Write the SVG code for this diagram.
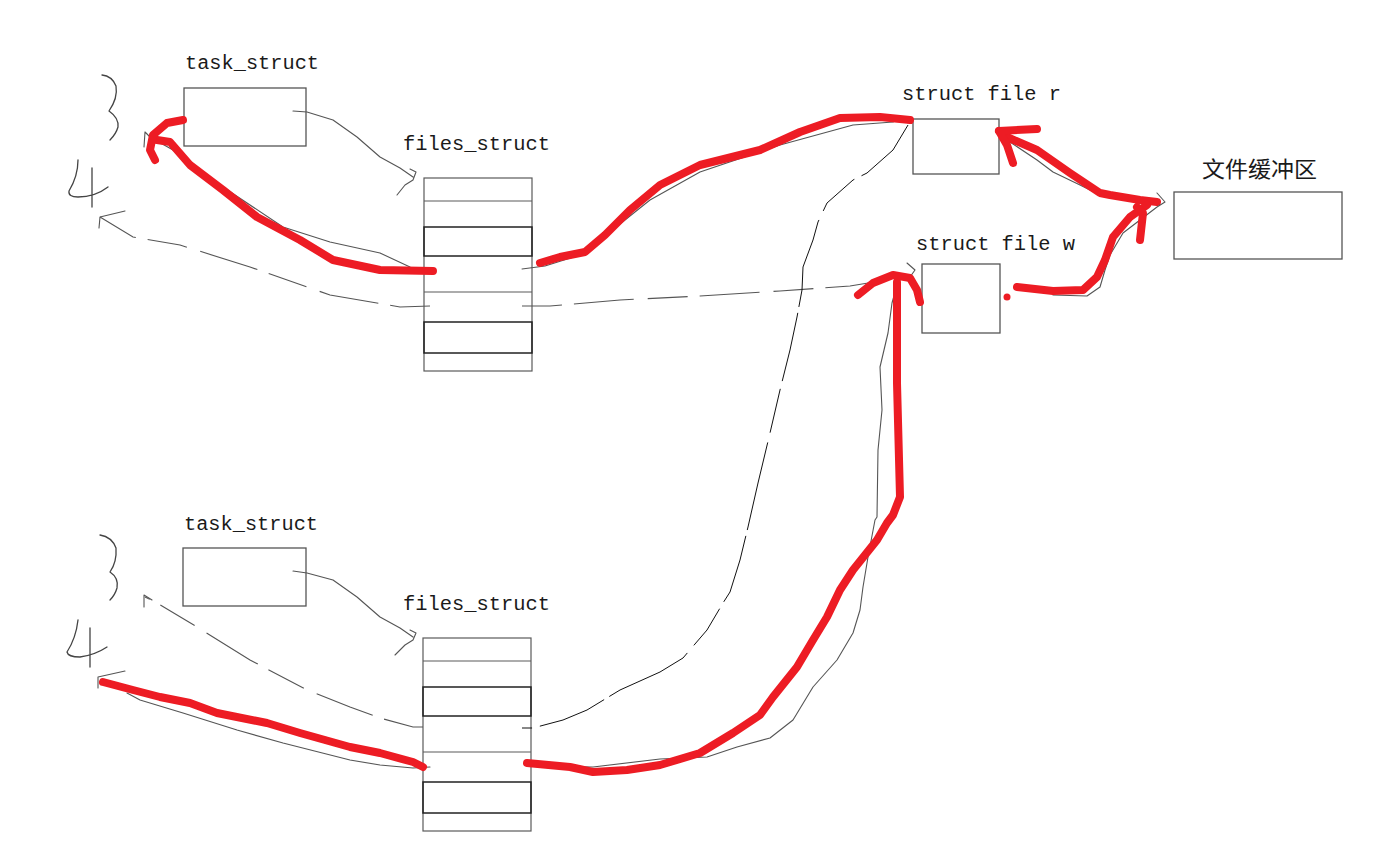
<svg xmlns="http://www.w3.org/2000/svg" width="1393" height="862" viewBox="0 0 1393 862">
<style>
.lbl{font-family:"Liberation Mono",monospace;font-size:20px;fill:#1a1a1a}
.cjk{font-family:"Noto Sans CJK SC",sans-serif;font-size:22px;fill:#1a1a1a}
.box{fill:#fff;stroke:#555;stroke-width:1.3}
.cell{fill:none;stroke:#5a5a5a;stroke-width:1.2}
.bold{fill:none;stroke:#222;stroke-width:1.5}
.thin{fill:none;stroke:#555;stroke-width:1.1;stroke-linejoin:round;stroke-linecap:round}
.dash{fill:none;stroke:#555;stroke-width:1.1;stroke-dasharray:40 12 60 14}
.long{fill:none;stroke:#111;stroke-width:1;stroke-dasharray:70 8 45 10 90 6}
.red{fill:none;stroke:#ed1c24;stroke-width:8;stroke-linecap:round;stroke-linejoin:round}
.hand{fill:none;stroke:#444;stroke-width:1.3;stroke-linejoin:round;stroke-linecap:round}
</style>
<rect width="1393" height="862" fill="#fff"/>

<g id="hand-top">
<path class="hand" d="M102,75 Q112,76 116,86 Q118,98 109,111 Q119,118 118,127 Q116,134 110,140"/>
<path class="hand" d="M78,160 Q78,176 69,191 Q68,197 78,197 Q95,197 108,187 M92,168 L92,207"/>
</g>
<g id="hand-bottom">
<path class="hand" d="M100,535 Q112,537 116,548 Q117,562 110,572 Q119,578 117,588 Q115,595 110,600"/>
<path class="hand" d="M78,620 Q76,638 67,652 Q68,657 80,657 Q95,655 107,647 M90,628 L90,667"/>
</g>

<g id="task1">
<text class="lbl" x="185" y="69" textLength="134" lengthAdjust="spacingAndGlyphs">task_struct</text>
<rect class="box" x="184" y="88" width="122" height="58"/>
</g>
<g id="files1">
<text class="lbl" x="403" y="150" textLength="147" lengthAdjust="spacingAndGlyphs">files_struct</text>
<rect class="cell" x="424" y="178" width="108" height="193"/>
<path class="cell" d="M424,201 H532 M424,292 H532"/>
<rect class="bold" x="424" y="227" width="108" height="29"/>
<rect class="bold" x="424" y="322" width="108" height="31"/>
</g>
<g id="task2">
<text class="lbl" x="184" y="530" textLength="134" lengthAdjust="spacingAndGlyphs">task_struct</text>
<rect class="box" x="183" y="548" width="123" height="58"/>
</g>
<g id="files2">
<text class="lbl" x="403" y="610" textLength="147" lengthAdjust="spacingAndGlyphs">files_struct</text>
<rect class="cell" x="423" y="638" width="108" height="193"/>
<path class="cell" d="M423,661 H531 M423,752 H531"/>
<rect class="bold" x="423" y="687" width="108" height="29"/>
<rect class="bold" x="423" y="782" width="108" height="31"/>
</g>
<g id="file-r">
<text class="lbl" x="902" y="100" textLength="159" lengthAdjust="spacingAndGlyphs">struct file r</text>
<rect class="box" x="913" y="119" width="86" height="55"/>
</g>
<g id="file-w">
<text class="lbl" x="916" y="250" textLength="159" lengthAdjust="spacingAndGlyphs">struct file w</text>
<rect class="box" x="922" y="264" width="78" height="69"/>
</g>
<g id="buffer">
<text class="cjk" x="1202" y="177" textLength="115" lengthAdjust="spacingAndGlyphs">文件缓冲区</text>
<rect class="box" x="1174" y="192" width="168" height="67"/>
</g>

<g id="connectors">
<path class="thin" d="M293,111 L307,112 L333,120 L357,137 L380,157 L400,168 L413,177 M410,169 L416,172 L413,180 L405,185 L397,195"/>
<path class="thin" d="M293,571 L307,573 L333,580 L357,597 L380,617 L400,628 L413,637 M410,630 L416,633 L413,640 L405,645 L395,655"/>

<path class="thin" d="M410,267 L380,253 L330,242 L283,227 L217,183 L173,150 L150,137 M150,137 L145,132 L144,147"/>
<path class="red" d="M433,271 L380,270 L333,260 L300,240 L257,217 L223,190 L190,165 L170,142 L157,140"/>
<path class="red" d="M183,120 L167,123 L153,135 L150,150 L155,160"/>

<path class="dash" d="M430,306 L400,307 L330,295 L250,267 L180,245 L133,237 L100,217"/>
<path class="thin" d="M125,211 L100,217 L99,228"/>

<path class="thin" d="M522,269 L545,266 L580,255 L610,232 L650,200 L700,172 L780,145 L853,125 L893,122 L903,117 L908,123"/>
<path class="red" d="M540,263 L560,257 L585,252 L605,235 L630,210 L660,185 L700,165 L760,150 L800,132 L840,118 L880,117 L910,120"/>

<path class="dash" d="M522,306 L550,306 L620,300 L700,296 L780,291 L850,286 L905,277"/>
<path class="thin" d="M907,263 L915,270 L910,277"/>

<path class="long" d="M908,125 L893,150 L867,173 L853,180 L827,203 L818,222 L813,240 L803,267 L802,290 L797,317 L790,350 L780,390 L770,433 L758,483 L748,527 L740,560 L730,592 L723,603 L707,630 L683,658 L660,672 L620,690 L587,710 L563,720 L533,728 L522,728"/>

<path class="thin" d="M527,766 L593,767 L660,759 L707,757 L737,747 L770,738 L793,720 L813,687 L837,660 L853,633 L860,610 L863,587 L868,557 L875,520 L877,517 L878,450 L882,410 L880,367 L888,333 L892,303 L897,285"/>
<path class="red" d="M897,282 L897,383 L900,497 L893,515 L887,523 L877,540 L853,570 L840,590 L827,617 L813,640 L797,667 L773,697 L760,715 L733,733 L700,753 L660,765 L627,770 L593,772 L570,767 L527,763"/>
<path class="red" d="M858,295 L873,283 L893,275 L910,278 L917,290 L920,302"/>

<path class="thin" d="M1007,140 L1037,160 L1053,172 L1080,185 L1100,195 L1140,203"/>
<path class="red" d="M1157,202 L1140,200 L1110,195 L1100,193 L1070,173 L1037,150 L1007,137 L999,131"/>
<path class="red" d="M1037,129 L999,131 L1007,145 L1013,163"/>

<circle cx="1007" cy="297" r="3.5" fill="#ed1c24"/>
<path class="thin" d="M1053,295 L1087,296 L1100,287 L1105,270 L1110,255 L1123,233 L1140,220 L1157,207 L1165,202 L1157,193"/>
<path class="red" d="M1017,287 L1053,291 L1083,290 L1097,277 L1105,260 L1113,237 L1130,217 L1147,205"/>
<path class="red" d="M1140,240 L1143,213 L1137,207"/>

<path class="dash" d="M423,727 L413,727 L380,718 L350,707 L307,690 L250,660 L197,627 L157,603 L145,597"/>
<path class="thin" d="M144,607 L144,595 L152,600"/>

<path class="thin" d="M430,767 L413,768 L380,765 L350,760 L283,743 L237,730 L183,713 L140,700 L127,693"/>
<path class="thin" d="M125,671 L98,677 L98,688"/>
<path class="red" d="M423,767 L413,762 L380,753 L350,747 L300,733 L267,723 L217,713 L190,703 L160,697 L133,690 L103,682"/>
</g>
</svg>
